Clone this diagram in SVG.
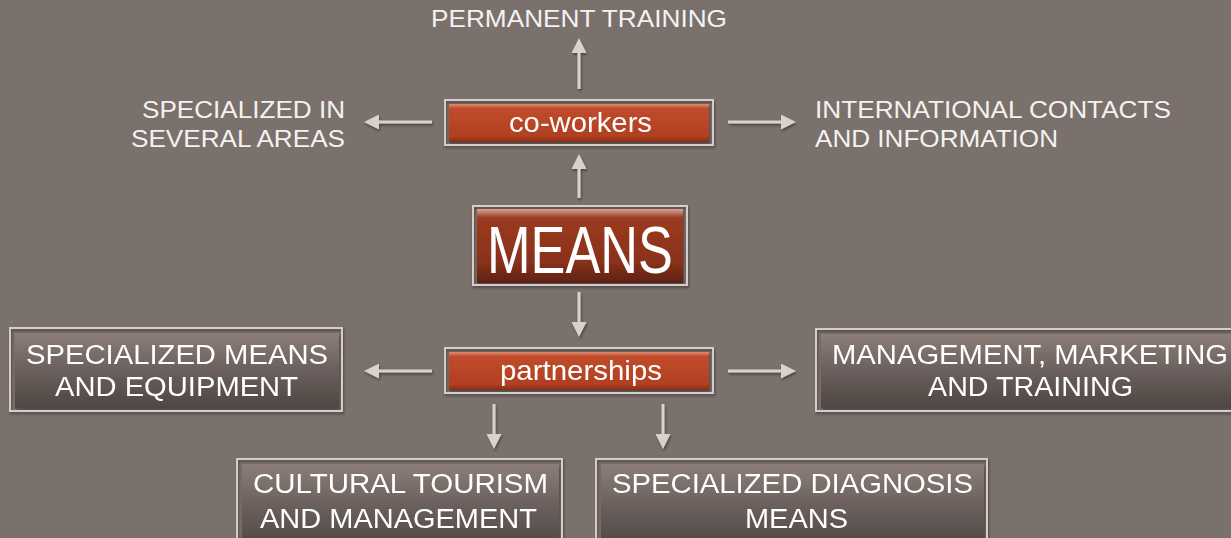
<svg xmlns="http://www.w3.org/2000/svg" width="1231" height="538" viewBox="0 0 1231 538">
<defs>
<style>
.t{font-family:"Liberation Sans",Arial,sans-serif;fill:#ffffff}
.lbl{font-size:24px;fill:#f4f2f1}
.box{font-size:27px}
.conn{stroke:#d8d1ce;stroke-width:3;fill:none;marker-end:url(#ah)}
.frame{fill:none;stroke:#d6cdc9;stroke-width:2}
</style>
<linearGradient id="gray" x1="0" y1="0" x2="0" y2="1">
<stop offset="0" stop-color="#8c7e79"/>
<stop offset="0.5" stop-color="#6a5f5c"/>
<stop offset="1" stop-color="#4f4644"/>
</linearGradient>
<linearGradient id="red" x1="0" y1="0" x2="0" y2="1">
<stop offset="0" stop-color="#e08a70"/>
<stop offset="0.12" stop-color="#c04c2b"/>
<stop offset="0.85" stop-color="#b13f22"/>
<stop offset="1" stop-color="#8a2e18"/>
</linearGradient>
<linearGradient id="dred" x1="0" y1="0" x2="0" y2="1">
<stop offset="0" stop-color="#d9a494"/>
<stop offset="0.12" stop-color="#9b3a20"/>
<stop offset="0.7" stop-color="#8a321b"/>
<stop offset="1" stop-color="#5e2212"/>
</linearGradient>
<marker id="ah" viewBox="0 0 10 10" refX="2" refY="5" markerWidth="15" markerHeight="15" markerUnits="userSpaceOnUse" orient="auto">
<path d="M0,0 L10,5 L0,10 z" fill="#d8d1ce"/>
</marker>
<filter id="sh" x="-10%" y="-10%" width="120%" height="130%">
<feDropShadow dx="1" dy="2" stdDeviation="1" flood-color="#3a3230" flood-opacity="0.7"/>
</filter>
</defs>
<rect width="1231" height="538" fill="#7a706c"/>

<g id="connectors" filter="url(#sh)">
<line class="conn" x1="579" y1="89" x2="579" y2="50"/>
<line class="conn" x1="432" y1="122" x2="376" y2="122"/>
<line class="conn" x1="728" y1="122" x2="784" y2="122"/>
<line class="conn" x1="579" y1="198" x2="579" y2="166"/>
<line class="conn" x1="579" y1="292" x2="579" y2="325"/>
<line class="conn" x1="432" y1="371" x2="376" y2="371"/>
<line class="conn" x1="728" y1="371" x2="784" y2="371"/>
<line class="conn" x1="494" y1="404" x2="494" y2="437"/>
<line class="conn" x1="663" y1="404" x2="663" y2="437"/>
</g>

<g id="permanent-training"><text class="t lbl" x="431" y="27" textLength="296" lengthAdjust="spacingAndGlyphs">PERMANENT TRAINING</text></g>
<g id="specialized-in">
<text class="t lbl" x="142" y="118" textLength="203" lengthAdjust="spacingAndGlyphs">SPECIALIZED IN</text>
<text class="t lbl" x="131" y="147" textLength="214" lengthAdjust="spacingAndGlyphs">SEVERAL AREAS</text>
</g>
<g id="international">
<text class="t lbl" x="815" y="118" textLength="356" lengthAdjust="spacingAndGlyphs">INTERNATIONAL CONTACTS</text>
<text class="t lbl" x="815" y="147" textLength="243" lengthAdjust="spacingAndGlyphs">AND INFORMATION</text>
</g>

<g id="co-workers" filter="url(#sh)">
<rect class="frame" x="445" y="100" width="268" height="45"/>
<rect x="449" y="104" width="260" height="38" fill="url(#red)"/>
<text class="t" x="509" y="132" font-size="28" textLength="143" lengthAdjust="spacingAndGlyphs">co-workers</text>
</g>

<g id="means" filter="url(#sh)">
<rect class="frame" x="473" y="206" width="214" height="79"/>
<rect x="477" y="209" width="206" height="74" fill="url(#dred)"/>
<text class="t" x="487" y="273" font-size="67" textLength="186" lengthAdjust="spacingAndGlyphs">MEANS</text>
</g>

<g id="partnerships" filter="url(#sh)">
<rect class="frame" x="445" y="348" width="268" height="45"/>
<rect x="449" y="352" width="260" height="38" fill="url(#red)"/>
<text class="t" x="500" y="380" font-size="28" textLength="162" lengthAdjust="spacingAndGlyphs">partnerships</text>
</g>

<g id="specialized-means" filter="url(#sh)">
<rect class="frame" x="10" y="328" width="332" height="83"/>
<rect x="15" y="333" width="324" height="75" fill="url(#gray)"/>
<text class="t box" x="26" y="364" textLength="302" lengthAdjust="spacingAndGlyphs">SPECIALIZED MEANS</text>
<text class="t box" x="55" y="396" textLength="243" lengthAdjust="spacingAndGlyphs">AND EQUIPMENT</text>
</g>

<g id="management" filter="url(#sh)">
<rect class="frame" x="816" y="329" width="430" height="82"/>
<rect x="821" y="334" width="420" height="74" fill="url(#gray)"/>
<text class="t box" x="832" y="364" textLength="396" lengthAdjust="spacingAndGlyphs">MANAGEMENT, MARKETING</text>
<text class="t box" x="928" y="396" textLength="205" lengthAdjust="spacingAndGlyphs">AND TRAINING</text>
</g>

<g id="cultural-tourism" filter="url(#sh)">
<rect class="frame" x="237" y="459" width="325" height="90"/>
<rect x="242" y="464" width="317" height="85" fill="url(#gray)"/>
<text class="t box" x="253" y="493" textLength="295" lengthAdjust="spacingAndGlyphs">CULTURAL TOURISM</text>
<text class="t box" x="260" y="528" textLength="277" lengthAdjust="spacingAndGlyphs">AND MANAGEMENT</text>
</g>

<g id="diagnosis" filter="url(#sh)">
<rect class="frame" x="596" y="459" width="391" height="90"/>
<rect x="601" y="464" width="383" height="85" fill="url(#gray)"/>
<text class="t box" x="612" y="493" textLength="361" lengthAdjust="spacingAndGlyphs">SPECIALIZED DIAGNOSIS</text>
<text class="t box" x="745" y="528" textLength="103" lengthAdjust="spacingAndGlyphs">MEANS</text>
</g>
</svg>
